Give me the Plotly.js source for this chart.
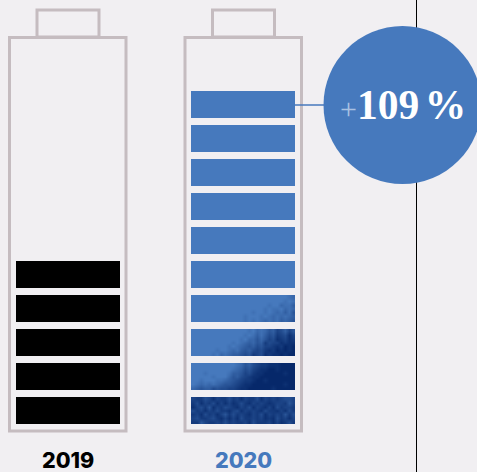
<!DOCTYPE html>
<html><head><meta charset="utf-8">
<script src="https://cdn.plot.ly/plotly-3.0.1.min.js"></script>
<style>html,body{margin:0;padding:0;background:#f1eff2;overflow:hidden}</style>
</head><body><div id="chart" style="width:477px;height:472px"></div>
<script>
// ---- data ----
const years = [2019, 2020];
const yearLabels = ['2019', '2020'];
const cells2019 = [0, 1, 2, 3, 4];
const cells2020 = [4, 5, 6, 7, 8, 9];        // plain cells
const wornCells2020 = [0, 1, 2, 3];          // textured cells
const growthPlus = '+';
const growthNumber = '109';
const growthUnit = '%';
// darkness (0-9) of the worn lower cells of the 2020 battery, rows top-to-bottom
const wear0 = [
 '67756867757686775867676556',
 '75867586868757867678766746',
 '86574867567867586786857667',
 '57686757786586767857786857',
 '76857686475767867586767475',
 '65776578686857767687857686',
 '77467767576776857776868757'];
const wear1 = [
 '00000000000124356778889999',
 '00000000001235467889989999',
 '00010000013346578899999899',
 '00000100024356788999999999',
 '00100011234567789989999999',
 '01212123445678899999999899',
 '23433545566788999999899999'];
const wear2 = [
 '00000000000000102124365364',
 '00000000000001013135476586',
 '00000000000010224246587687',
 '00000000001012324375668788',
 '00000000010123435466787989',
 '00000010012134356578798989',
 '00000102123345476587889899'];
const wear3 = [
 '00000000000000000000000012',
 '00000000000000000000000101',
 '00000000000000000001002113',
 '00000000000000000010110212',
 '00000000000000010010121314',
 '00000000000001000101212123',
 '00000000000001010121213234'];

// ---- style ----
const W = 477, H = 472;
const BG = '#f1eff2', BLUE = '#4679bd', DARK = '#06286a', OUT = '#c5bcc0', BLACK = '#000000', PLUS = '#a9c1e2';
const x2019px = 68, pitchX = 175, barPx = 104;
const y0px = 424, pitchY = 34, cellPx = 27;
const xRange = [years[0] - x2019px / pitchX, years[0] + (W - x2019px) / pitchX];
const yRange = [(y0px - H) / pitchY, y0px / pitchY];
const barW = barPx / pitchX, cellH = cellPx / pitchY;

const traces = [];
traces.push({type:'bar', x:cells2019.map(()=>years[0]), y:cells2019.map(()=>cellH), base:cells2019,
  width:barW, marker:{color:BLACK, line:{width:0}}, hoverinfo:'skip', showlegend:false});
traces.push({type:'bar', x:cells2020.map(()=>years[1]), y:cells2020.map(()=>cellH), base:cells2020,
  width:barW, marker:{color:BLUE, line:{width:0}}, hoverinfo:'skip', showlegend:false});
[wear0, wear1, wear2, wear3].forEach((rowsText, i) => {
  const z = rowsText.slice().reverse().map(r => r.split('').map(Number));
  const cols = z[0].length, rows = z.length;
  traces.push({type:'heatmap', z:z, zmin:0, zmax:9, zsmooth:'best', showscale:false, hoverinfo:'skip',
    x0: years[1] - barW/2 + barW/cols/2, dx: barW/cols,
    y0: wornCells2020[i] + cellH/rows/2, dy: cellH/rows,
    colorscale:[[0,BLUE],[1,DARK]]});
});

function px(x){return x/W;} function py(y){return 1-y/H;}
function rect(x0,y0,x1,y1){return {type:'rect',xref:'paper',yref:'paper',x0:px(x0),x1:px(x1),y0:py(y0),y1:py(y1),
  line:{color:OUT,width:3},fillcolor:'rgba(0,0,0,0)',layer:'below'};}
const shapes = [
  {type:'line',xref:'paper',yref:'paper',x0:px(416.5),x1:px(416.5),y0:0,y1:1,line:{color:'#000',width:1},layer:'below'},
  rect(37,10,99,37), rect(9.5,37.5,126,431),
  rect(212.5,10,274.5,37), rect(185,37.5,301.5,431),
  {type:'line',xref:'paper',yref:'paper',x0:px(295),x1:px(330),y0:py(105),y1:py(105),line:{color:BLUE,width:1.5},layer:'below'},
  {type:'circle',xref:'paper',yref:'paper',x0:px(323.5),x1:px(481.5),y0:py(26),y1:py(184),fillcolor:BLUE,line:{width:0},layer:'above'}
];
const layout = {
  width:W, height:H, margin:{l:0,r:0,t:0,b:0}, paper_bgcolor:BG, plot_bgcolor:BG, showlegend:false, barmode:'overlay',
  xaxis:{range:xRange, showgrid:false, zeroline:false, showline:false, showticklabels:false, ticks:'', fixedrange:true},
  yaxis:{range:yRange, showgrid:false, zeroline:false, showline:false, showticklabels:false, ticks:'', fixedrange:true},
  shapes:shapes,
  annotations:[
    {xref:'x',yref:'paper',x:years[0],y:py(460),text:yearLabels[0],showarrow:false,xanchor:'center',yanchor:'middle',font:{family:'Inter',size:21.5,color:'#000',weight:800}},
    {xref:'x',yref:'paper',x:years[1],y:py(460),text:yearLabels[1],showarrow:false,xanchor:'center',yanchor:'middle',font:{family:'Inter',size:21.5,color:BLUE,weight:800}},
    {xref:'paper',yref:'paper',x:px(402.5),y:py(105),xanchor:'center',yanchor:'middle',showarrow:false,
     text:'<span style="color:'+PLUS+';font-size:30px">'+growthPlus+'</span><b>'+growthNumber+'<span style="font-size:22px"> </span>'+growthUnit+'</b>',
     font:{family:'Liberation Serif',size:41.5,color:'#ffffff'}}
  ]
};
Plotly.newPlot('chart', traces, layout, {displayModeBar:false, staticPlot:true});
</script></body></html>
